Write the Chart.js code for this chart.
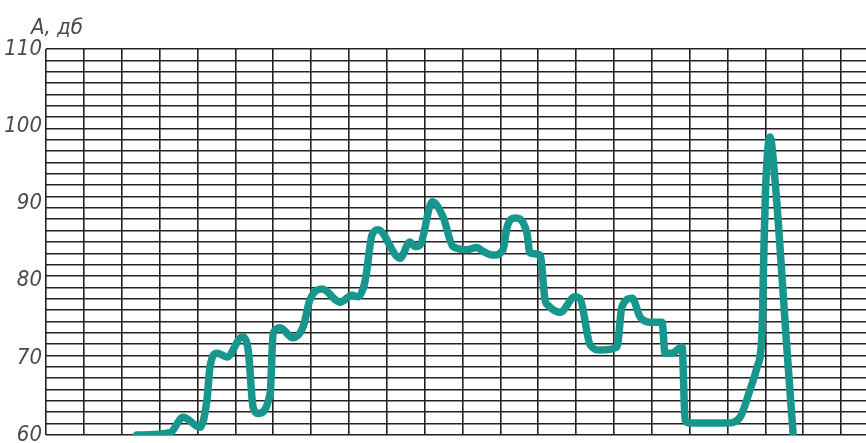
<!DOCTYPE html>
<html>
<head>
<meta charset="utf-8">
<script src="https://cdn.jsdelivr.net/npm/chart.js@4/dist/chart.umd.min.js"></script>
<style>
  html, body { margin: 0; padding: 0; background: #fff; overflow: hidden; }
  #wrap { width: 900px; height: 443px; }
</style>
</head>
<body>
<div id="wrap"><canvas id="c" width="900" height="443"></canvas></div>
<script>
// Column positions (grid columns from left axis) and levels in dB
const xPositions = [2.40, 3.28, 3.62, 4.07, 4.25, 4.33, 4.52, 4.78, 5.18, 5.34, 5.47, 5.60, 5.92, 6.00, 6.18, 6.52, 6.79, 6.97, 7.29, 7.77, 8.08, 8.24, 8.43, 8.61, 8.77, 9.35, 9.61, 9.75, 9.88, 10.20, 10.49, 10.75, 11.12, 11.38, 11.54, 11.81, 12.07, 12.18, 12.39, 12.70, 12.78, 13.05, 13.18, 13.26, 13.58, 13.97, 14.10, 14.37, 14.63, 15.08, 15.21, 15.48, 15.69, 15.95, 16.27, 16.35, 16.53, 16.80, 16.88, 17.01, 17.99, 18.33, 18.59, 18.78, 18.91, 18.95, 19.00, 19.12, 19.26, 19.39, 19.57, 19.73];
const levels = [60.0, 60.3, 62.3, 61.0, 64.5, 68.8, 70.6, 70.1, 72.7, 71.0, 63.6, 62.8, 65.4, 73.2, 73.9, 72.6, 74.0, 77.5, 78.9, 77.2, 78.1, 77.9, 80.0, 85.9, 86.6, 82.9, 85.0, 84.4, 84.6, 90.2, 88.2, 84.4, 84.0, 84.3, 83.8, 83.3, 84.0, 87.0, 88.1, 86.2, 83.6, 83.3, 77.5, 76.8, 75.9, 77.9, 77.7, 71.7, 71.0, 71.4, 76.6, 77.7, 75.3, 74.6, 74.6, 70.6, 70.6, 71.4, 61.9, 61.55, 61.55, 62.3, 65.8, 68.8, 73.2, 81.8, 91.3, 98.6, 92.6, 84.0, 71.0, 60.3];
const yTickLabels = [60, 70, 80, 90, 100, 110];
const axisTitle = ["А,", "дб"];

const yMin = 60, yMax = 110;
const gridRows = 34;
const gridCols = 22;

const points = xPositions.map((x, i) => ({ x: x, y: levels[i] }));

const titlePlugin = {
  id: 'axisTitle',
  afterDraw(chart) {
    const ctx = chart.ctx;
    ctx.save();
    ctx.fillStyle = '#4a4a4a';
    ctx.font = 'italic 22px "DejaVu Sans Condensed", "DejaVu Sans", sans-serif';
    ctx.textBaseline = 'alphabetic';
    ctx.textAlign = 'left';
    ctx.fillText(axisTitle[0], 31, 34);
    ctx.fillText(axisTitle[1], 57, 34);
    ctx.restore();
  }
};

new Chart(document.getElementById('c'), {
  type: 'scatter',
  data: {
    datasets: [{
      data: points,
      showLine: true,
      borderColor: '#17968e',
      backgroundColor: '#17968e',
      borderWidth: 7.5,
      pointRadius: 0,
      tension: 0.35,
      cubicInterpolationMode: 'monotone',
      borderCapStyle: 'round',
      borderJoinStyle: 'round'
    }]
  },
  options: {
    responsive: false,
    animation: false,
    layout: { autoPadding: false, padding: { left: 0, top: 49, right: 21, bottom: 8 } },
    plugins: { legend: { display: false }, tooltip: { enabled: false } },
    scales: {
      x: {
        type: 'linear',
        min: 0, max: gridCols,
        ticks: { display: false, stepSize: 1 },
        grid: { color: '#222', lineWidth: 1.6, drawTicks: false },
        border: { display: false },
        afterFit(s) { s.height = 0; }
      },
      y: {
        min: yMin, max: yMax,
        position: 'left',
        afterBuildTicks(s) { s.ticks = yTickLabels.map(v => ({ value: v })); },
        ticks: {
          color: '#4a4a4a',
          padding: 4,
          font: { family: '"DejaVu Sans Condensed", "DejaVu Sans", sans-serif', size: 22, style: 'italic' }
        },
        grid: { display: false, drawTicks: false },
        border: { display: false },
        afterFit(s) { s.width = 46; s.paddingTop = 0; s.paddingBottom = 0; }
      },
      yGrid: {
        min: yMin, max: yMax,
        position: 'left',
        afterBuildTicks(s) {
          const t = [];
          for (let i = 0; i <= gridRows; i++) t.push({ value: yMin + (yMax - yMin) * i / gridRows });
          s.ticks = t;
        },
        ticks: { display: false },
        grid: { color: '#222', lineWidth: 1.6, drawTicks: false },
        border: { display: false },
        afterFit(s) { s.width = 0; s.paddingTop = 0; s.paddingBottom = 0; }
      }
    }
  },
  plugins: [titlePlugin]
});
</script>
</body>
</html>
